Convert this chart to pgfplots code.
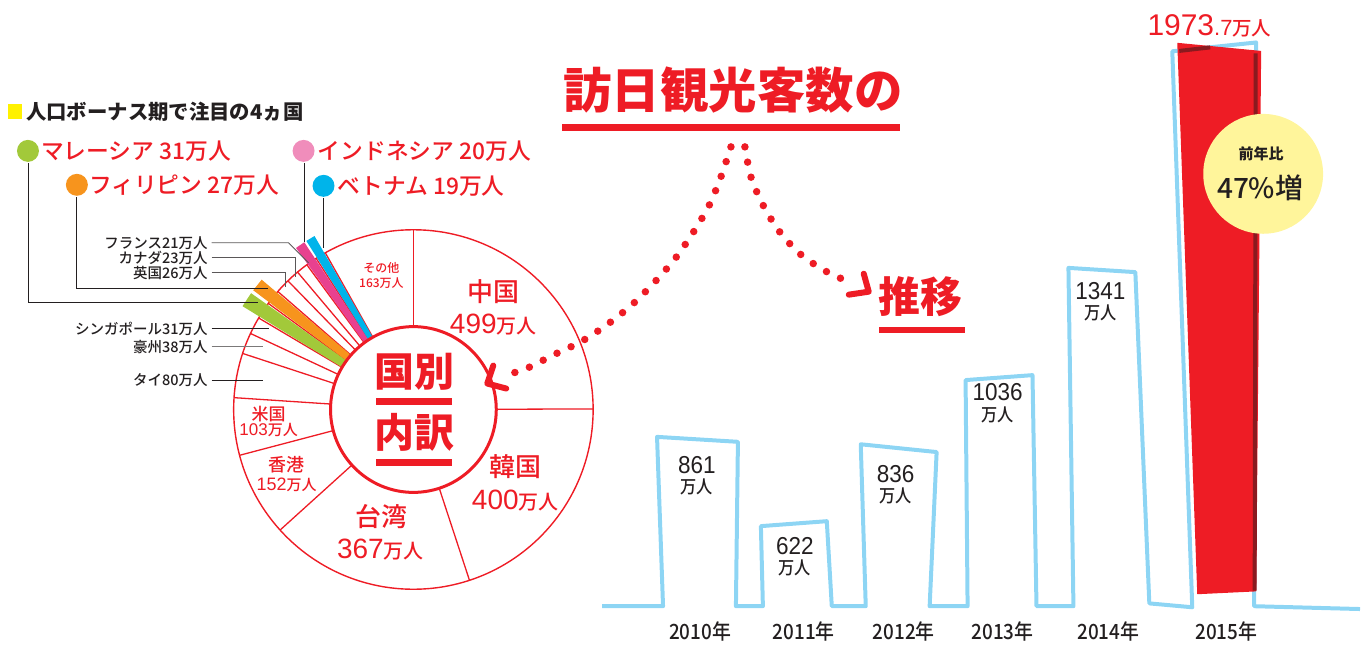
\documentclass[border=0pt]{standalone}
\usepackage{fontspec}
\usepackage{pgfplots}
\pgfplotsset{compat=1.18}
\setmainfont{Noto Sans CJK JP}
\newfontfamily\jp{Noto Sans CJK JP}
\newfontfamily\jpm{Noto Sans CJK JP Medium}
\newfontfamily\jpn[FakeStretch=0.9]{Noto Sans CJK JP Medium}
\newfontfamily\ls{Liberation Sans}
\newfontfamily\lsn[FakeStretch=0.92]{Liberation Sans}
\definecolor{jred}{HTML}{EE1C25}
\definecolor{lblue}{HTML}{8DD5F4}
\definecolor{dred}{HTML}{8A1A1F}
\definecolor{jgreen}{HTML}{A2C93A}
\definecolor{jorange}{HTML}{F7941D}
\definecolor{jpinkdot}{HTML}{F08DBB}
\definecolor{jmagenta}{HTML}{E8418F}
\definecolor{jcyan}{HTML}{00B4EA}
\definecolor{jyellow}{HTML}{FFF100}
\definecolor{cyellow}{HTML}{FFF59B}
\definecolor{ink}{HTML}{231F20}
\newcommand\fs[1]{\fontsize{#1}{#1}\selectfont}
% point on the pie: #1 = cumulative value (of 2000), #2 = radius
\newcommand\pp[2]{(axis cs:{414+#2*cos(90-0.18*(#1))},{410-#2*sin(90-0.18*(#1))})}
\newcommand\strip[3]{\fill[#3] \pp{#1}{84} -- \pp{#1+0.1*#2}{200} -- \pp{#1+0.9*#2}{200} -- \pp{#1+#2}{84} -- cycle;}
\begin{document}
\begin{tikzpicture}
% ---------------- bar chart (visitors, 10k people) ----------------
\begin{axis}[at={(0,35pt)}, anchor=south west, width=1362pt, height=607pt, scale only axis,
  xmin=0, xmax=1362, ymin=388, ymax=2106.1, clip=false, no markers,
  axis line style={draw=none}, ytick=\empty, major tick length=0pt,
  xtick={701,805,905,1004,1110,1228},
  xticklabels={2010年,2011年,2012年,2013年,2014年,2015年},
  xticklabel style={font=\jpn\fs{21}, text=ink, anchor=center, yshift=-25pt}]
\addplot[lblue, line width=4pt, line join=round] coordinates {
 (603,388) (664,388) (658,868) (739,854) (737,388)
 (764,388) (762,615) (828,629) (833,388)
 (867,388) (862,847) (938,825) (931,388)
 (969,388) (967,1029) (1034,1043) (1038,388)
 (1075,388) (1070,1347) (1137,1335) (1151,396)
 (1194,385) (1174,1961) (1258,1986) (1256,388) (1362,380)};
\addplot[fill=jred, draw=none] coordinates {(1179,1985) (1263,1962) (1258,430) (1199,422)} -- cycle;
\addplot[dred, line width=4pt] coordinates {(1181,1962) (1212,1972)};
\addplot[dred, line width=4pt] coordinates {(1257.5,1955) (1256.5,432)};
\end{axis}
% ---------------- everything else, in picture pixels ----------------
\begin{axis}[at={(0,0)}, anchor=south west, width=1362pt, height=642pt, scale only axis,
  xmin=0, xmax=1362, ymin=0, ymax=642, y dir=reverse, hide axis, clip=false]
% pie
\draw[jred, line width=1.4pt] (axis cs:414,410) circle[radius=180pt];
\pgfplotsinvokeforeach{0,499,899,1266,1418,1521,1601,1639,1670,1701,1728,1754,1777,1798,1818,1837}{
  \draw[jred, line width=1.3pt] \pp{#1}{83} -- \pp{#1}{180};}
\strip{1670}{31}{jgreen}
\strip{1701}{27}{jorange}
\strip{1798}{20}{jmagenta}
\strip{1818}{19}{jcyan}
\filldraw[fill=white, draw=jred, line width=3pt] (axis cs:414,410) circle[radius=83pt];
% leader lines
\draw[ink, line width=0.9pt] (axis cs:28,163) -- (axis cs:28,303) -- (axis cs:258,303);
\draw[ink, line width=0.9pt] (axis cs:77,197) -- (axis cs:77,289) -- (axis cs:268,289);
\draw[ink, line width=0.9pt] (axis cs:305,163) -- (axis cs:305,242);
\draw[ink, line width=0.9pt] (axis cs:324,198) -- (axis cs:324,248);
\draw[ink!75, line width=0.9pt] (axis cs:212,243) -- (axis cs:289,243) -- (axis cs:309,263);
\draw[ink!75, line width=0.9pt] (axis cs:212,258) -- (axis cs:296,258) -- (axis cs:296,277);
\draw[ink!75, line width=0.9pt] (axis cs:212,273) -- (axis cs:286,273) -- (axis cs:286,287);
\draw[ink, line width=0.9pt] (axis cs:212,329) -- (axis cs:269,329);
\draw[ink!60, line width=0.9pt] (axis cs:212,347) -- (axis cs:263,347);
\draw[ink, line width=0.9pt] (axis cs:212,381) -- (axis cs:263,381);
% small labels
\foreach \t/\y in {フランス21万人/243, カナダ23万人/258, 英国26万人/273, シンガポール31万人/329, 豪州38万人/347, タイ80万人/381}
  {\edef\tmp{\noexpand\node[anchor=east, inner sep=0pt, text=ink, font=\noexpand\jpm\noexpand\fs{14.5}] at (axis cs:208,\y) {\t};}\tmp}
% top-left legend
\fill[jyellow] (axis cs:8,104) rectangle (axis cs:22,119);
\node[anchor=west, inner sep=0pt, text=ink, font=\jp\bfseries\fs{20.4}] at (axis cs:26,112) {人口ボーナス期で注目の4ヵ国};
\fill[jgreen] (axis cs:28,151) circle[radius=11pt];
\fill[jorange] (axis cs:77,185) circle[radius=11pt];
\fill[jpinkdot] (axis cs:304,151) circle[radius=11pt];
\fill[jcyan] (axis cs:324,186) circle[radius=11pt];
\node[anchor=west, inner sep=0pt, text=jred, font=\jpm\fs{22.8}] at (axis cs:41,151) {マレーシア 31万人};
\node[anchor=west, inner sep=0pt, text=jred, font=\jpm\fs{22.8}] at (axis cs:89,185) {フィリピン 27万人};
\node[anchor=west, inner sep=0pt, text=jred, font=\jpm\fs{22.8}] at (axis cs:318,151) {インドネシア 20万人};
\node[anchor=west, inner sep=0pt, text=jred, font=\jpm\fs{22.8}] at (axis cs:338,186) {ベトナム 19万人};
% pie labels
\node[inner sep=0pt, text=jred, font=\jpm\fs{12}] at (axis cs:382,268) {その他};
\node[inner sep=0pt, text=jred, font=\jpm\fs{12}] at (axis cs:382,283) {163万人};
\node[inner sep=0pt, text=jred, font=\jpm\fs{26}] at (axis cs:494,292) {中国};
\node[inner sep=0pt, text=jred] at (axis cs:494,325) {{\ls\fs{28}499}{\jpm\fs{20}万人}};
\node[inner sep=0pt, text=jred, font=\jpm\fs{26}] at (axis cs:516,467) {韓国};
\node[inner sep=0pt, text=jred] at (axis cs:516,501) {{\ls\fs{28}400}{\jpm\fs{20}万人}};
\node[inner sep=0pt, text=jred, font=\jpm\fs{26}] at (axis cs:382,517) {台湾};
\node[inner sep=0pt, text=jred] at (axis cs:381,550) {{\ls\fs{28}367}{\jpm\fs{20}万人}};
\node[inner sep=0pt, text=jred, font=\jpm\fs{18}] at (axis cs:287,465) {香港};
\node[inner sep=0pt, text=jred] at (axis cs:287,485) {{\ls\fs{18}152}{\jpm\fs{15}万人}};
\node[inner sep=0pt, text=jred, font=\jpm\fs{17}] at (axis cs:269,415) {米国};
\node[inner sep=0pt, text=jred] at (axis cs:269,431) {{\ls\fs{17}103}{\jpm\fs{15}万人}};
% centre
\node[inner sep=0pt, text=jred, font=\jp\bfseries\fs{40}] at (axis cs:415,372) {国別};
\fill[jred] (axis cs:377,398) rectangle (axis cs:453,405);
\node[inner sep=0pt, text=jred, font=\jp\bfseries\fs{40}] at (axis cs:415,433) {内訳};
\fill[jred] (axis cs:377,460) rectangle (axis cs:453,467);
% title
\node[inner sep=0pt, text=jred, font=\jp\bfseries\fs{48.5}] at (axis cs:734,90) {訪日観光客数の};
\fill[jred] (axis cs:563,124) rectangle (axis cs:901,131);
\node[inner sep=0pt, text=jred, font=\jp\bfseries\fs{42}] at (axis cs:922,297) {推移};
\fill[jred] (axis cs:880,327) rectangle (axis cs:966,333);
% dotted arrows
\addplot[jred, line width=7.5pt, line cap=round, dash pattern=on 0pt off 15.5pt, smooth, no markers] coordinates {
 (732,147) (722,177) (710,206) (694,233) (676,259) (655,283) (633,305) (608,325) (582,342) (555,355) (527,369) (502,377)};
\draw[jred, line width=6pt, line cap=round, line join=round] (axis cs:494,366) -- (axis cs:488,384) -- (axis cs:507,389);
\addplot[jred, line width=7.5pt, line cap=round, dash pattern=on 0pt off 15.5pt, smooth, no markers] coordinates {
 (746,147) (752,177) (764,205) (780,231) (801,254) (826,271) (852,283)};
\draw[jred, line width=6pt, line cap=round, line join=round] (axis cs:865,274) -- (axis cs:870,292) -- (axis cs:850,295);
% bar labels
\foreach \v/\x/\y in {861/698/466, 622/796/547, 836/897/475, 1036/999/393, 1341/1102/291}
  {\edef\tmp{\noexpand\node[inner sep=0pt, text=ink, font=\noexpand\lsn\noexpand\fs{24.5}] at (axis cs:\x,\y) {\v};
   \noexpand\node[inner sep=0pt, text=ink, font=\noexpand\jpn\noexpand\fs{18}] at (axis cs:\x,\y+22) {万人};}\tmp}
\node[anchor=base west, inner sep=0pt, text=jred] at (axis cs:1149,35) {{\ls\fs{30}1973}{\ls\fs{22}.7}{\jpm\fs{19.5}万人}};
% yellow badge
\fill[cyellow] (axis cs:1265,174) circle[radius=60pt];
\node[inner sep=0pt, text=ink, font=\jp\bfseries\fs{15}] at (axis cs:1263,154) {前年比};
\node[inner sep=0pt, text=ink, font=\jpm\fs{28}] at (axis cs:1262,188) {47\%増};
\end{axis}
\end{tikzpicture}
\end{document}
